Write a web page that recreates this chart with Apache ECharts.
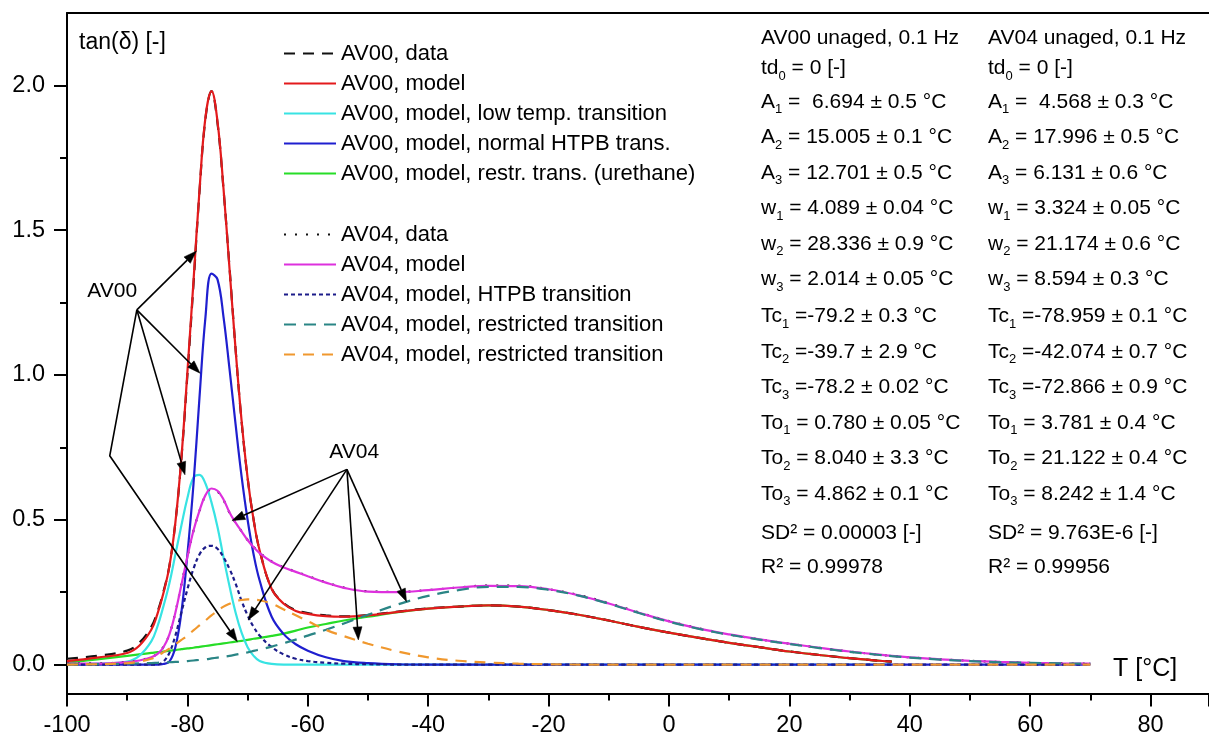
<!DOCTYPE html>
<html><head><meta charset="utf-8">
<script src="https://cdn.jsdelivr.net/npm/echarts@6/dist/echarts.min.js"></script>
<style>html,body{margin:0;padding:0;background:#fff}#c{width:1209px;height:742px}</style>
</head><body><div id="c"></div>
<script>
// ---------- data ----------
const temps = [-100,-95,-90,-88,-86,-85,-84,-83,-82,-81,-80,-79,-78,-77,-76,-75,-74,-73,-72,-71,-70,-69,-68,-66,-64,-62,-60,-57,-54,-50,-45,-40,-35,-30,-25,-20,-15,-10,-5,0,5,10,15,20,25,30,35,37,40,45,50,55,60,65,70];

const av00Data = [0.02,0.03,0.048,0.075,0.13, 0.18,0.25,0.34,0.49,0.71, 1.0,1.31,1.63,1.885,1.98, 1.87,1.64,1.37,1.09,0.84, 0.645,0.5,0.395,0.262,0.212, 0.188,0.178,0.17,0.166,0.171, 0.183,0.194,0.2,0.204,0.2, 0.188,0.172,0.152,0.13,0.11, 0.092,0.075,0.06,0.045,0.033, 0.022,0.013,0.01,null,null, null,null,null,null,null];
const av00Model = [0.012,0.024,0.04,0.065,0.12, 0.173,0.245,0.338,0.49,0.713, 1.01,1.32,1.635,1.89,1.98, 1.875,1.643,1.366,1.089,0.842, 0.645,0.499,0.394,0.261,0.21, 0.185,0.175,0.167,0.165,0.17, 0.182,0.193,0.2,0.204,0.2, 0.188,0.172,0.152,0.13,0.11, 0.092,0.075,0.06,0.045,0.033, 0.022,0.013,0.01,null,null, null,null,null,null,null];
const av00LowTemp = [0.001,0.003,0.01,0.03,0.08, 0.13,0.2,0.28,0.38,0.48, 0.575,0.645,0.655,0.625,0.56, 0.475,0.37,0.27,0.18,0.11, 0.06,0.03,0.012,0.002,0, 0,0,0,0,0, 0,0,0,0,0, 0,0,0,0,0, 0,0,0,0,0, 0,0,0,null,null, null,null,null,null,null];
const av00Htpb = [0,0,0,0,0, 0,0.002,0.01,0.06,0.18, 0.38,0.62,0.92,1.2,1.35, 1.33,1.2,1.02,0.83,0.65, 0.5,0.38,0.29,0.165,0.105, 0.07,0.048,0.025,0.012,0.005, 0.001,0,0,0,0, 0,0,0,0,0, 0,0,0,0,0, 0,0,0,0,0, 0,0,0,0,0];
const av00Urethane = [0.006,0.018,0.03,0.035,0.04, 0.043,0.045,0.048,0.05,0.053, 0.056,0.058,0.061,0.064,0.067, 0.07,0.073,0.076,0.079,0.082, 0.085,0.089,0.092,0.099,0.107, 0.117,0.128,0.14,0.152,0.165, 0.181,0.193,0.2,0.204,0.2, 0.188,0.172,0.152,0.13,0.11, 0.092,0.075,0.06,0.045,0.033, 0.022,0.013,0.01,null,null, null,null,null,null,null];

const av04Data = [0.004,0.004,0.009,0.015,0.026, 0.037,0.06,0.104,0.18,0.276, 0.372,0.461,0.53,0.583,0.606, 0.598,0.568,0.524,0.49,0.46, 0.43,0.406,0.386,0.356,0.336, 0.321,0.306,0.284,0.266,0.253, 0.251,0.257,0.266,0.273,0.272, 0.26,0.24,0.212,0.18,0.15, 0.125,0.104,0.087,0.072,0.058, 0.045,0.034,0.03,0.025,0.018, 0.013,0.009,0.006,0.004,0.003];
const av04Model = [0.003,0.003,0.008,0.014,0.025, 0.036,0.059,0.103,0.179,0.275, 0.372,0.462,0.531,0.585,0.608, 0.6,0.57,0.525,0.49,0.46, 0.43,0.405,0.385,0.355,0.335, 0.32,0.305,0.283,0.265,0.252, 0.25,0.257,0.266,0.272,0.271, 0.26,0.239,0.211,0.179,0.149, 0.124,0.104,0.087,0.072,0.058, 0.045,0.034,0.03,0.025,0.018, 0.013,0.009,0.006,0.004,0.003];
const av04Htpb = [0,0,0,0,0, 0,0.01,0.04,0.1,0.18, 0.26,0.33,0.38,0.405,0.41, 0.4,0.37,0.33,0.28,0.22, 0.17,0.13,0.1,0.06,0.035, 0.02,0.012,0.006,0.003,0.001, 0,0,0,0,0, 0,0,0,0,0, 0,0,0,0,0, 0,0,0,0,0, 0,0,0,0,0];
const av04Restricted = [0,0.001,0.003,0.004,0.005, 0.006,0.007,0.008,0.009,0.01, 0.012,0.014,0.016,0.018,0.021, 0.024,0.027,0.03,0.034,0.038, 0.042,0.047,0.052,0.062,0.074, 0.086,0.1,0.12,0.142,0.172, 0.208,0.237,0.257,0.268,0.268, 0.258,0.238,0.21,0.178,0.148, 0.123,0.103,0.086,0.071,0.057, 0.044,0.033,0.029,0.024,0.017, 0.012,0.008,0.006,0.004,0.003];
const av04Restricted2 = [0,0.001,0.005,0.01,0.02, 0.03,0.042,0.055,0.07,0.085, 0.1,0.118,0.135,0.152,0.17, 0.185,0.2,0.21,0.218,0.223, 0.225,0.224,0.222,0.21,0.19, 0.17,0.15,0.12,0.098,0.072, 0.045,0.025,0.013,0.007,0.003, 0.001,0,0,0,0, 0,0,0,0,0, 0,0,0,0,0, 0,0,0,0,0];

const yTickValues = [0, 0.5, 1.0, 1.5, 2.0];
const yMinorTickValues = [0.25, 0.75, 1.25, 1.75];

const namesAV00 = ['AV00, data','AV00, model','AV00, model, low temp. transition','AV00, model, normal HTPB trans.','AV00, model, restr. trans. (urethane)'];
const namesAV04 = ['AV04, data','AV04, model','AV04, model, HTPB transition','AV04, model, restricted transition','AV04, model, restricted transition '];

const paramsAV00 = ['AV00 unaged, 0.1 Hz','td_0 = 0 [-]','A_1 =  6.694 ± 0.5 °C','A_2 = 15.005 ± 0.1 °C','A_3 = 12.701 ± 0.5 °C','w_1 = 4.089 ± 0.04 °C','w_2 = 28.336 ± 0.9 °C','w_3 = 2.014 ± 0.05 °C','Tc_1 =-79.2 ± 0.3 °C','Tc_2 =-39.7 ± 2.9 °C','Tc_3 =-78.2 ± 0.02 °C','To_1 = 0.780 ± 0.05 °C','To_2 = 8.040 ± 3.3 °C','To_3 = 4.862 ± 0.1 °C','SD² = 0.00003 [-]','R² = 0.99978'];
const paramsAV04 = ['AV04 unaged, 0.1 Hz','td_0 = 0 [-]','A_1 =  4.568 ± 0.3 °C','A_2 = 17.996 ± 0.5 °C','A_3 = 6.131 ± 0.6 °C','w_1 = 3.324 ± 0.05 °C','w_2 = 21.174 ± 0.6 °C','w_3 = 8.594 ± 0.3 °C','Tc_1 =-78.959 ± 0.1 °C','Tc_2 =-42.074 ± 0.7 °C','Tc_3 =-72.866 ± 0.9 °C','To_1 = 3.781 ± 0.4 °C','To_2 = 21.122 ± 0.4 °C','To_3 = 8.242 ± 1.4 °C','SD² = 9.763E-6 [-]','R² = 0.99956'];

// annotation arrows in data coordinates (start ... tip)
const arrowPaths = [
  [[-88.4,1.225],[-78.5,1.428]],
  [[-88.4,1.225],[-77.9,1.006]],
  [[-88.4,1.225],[-80.4,0.655]],
  [[-88.4,1.225],[-92.9,0.721],[-71.7,0.079]],
  [[-53.5,0.674],[-72.6,0.497]],
  [[-53.5,0.674],[-69.9,0.154]],
  [[-53.5,0.674],[-51.6,0.085]],
  [[-53.5,0.674],[-43.6,0.217]]
];
const groupLabels = [{text:'AV00', at:[-92.5,1.29]}, {text:'AV04', at:[-52.3,0.734]}];

// ---------- layout / style ----------
const FONT = "'Liberation Sans', Arial, Helvetica, sans-serif";
const paramRowY = [38.5,68.5,102,137.5,173,208.5,244,279.5,316.5,352,387.5,423,458.5,494,533,567];
const paramColX = [761, 988];

function pts(vals){ return temps.map((t,i)=>[t, vals[i]]).filter(p=>p[1]!==null && p[1]!==undefined); }
function line(name, vals, color, type, width, z){
  return {name, type:'line', data: pts(vals), symbol:'none', showSymbol:false, smooth:0.4,
    lineStyle:{color, width, type}, itemStyle:{color}, z, animation:false, silent:true};
}

const series = [
  line('AV00, model, restr. trans. (urethane)', av00Urethane, '#27dd27', 'solid', 2.2, 2),
  line('AV00, data', av00Data, '#111111', [11,8], 2.2, 3),
  line('AV00, model', av00Model, '#e31a1c', 'solid', 2.2, 4),
  line('AV00, model, low temp. transition', av00LowTemp, '#38e3e3', 'solid', 2.2, 5),
  line('AV00, model, normal HTPB trans.', av00Htpb, '#1f1fcf', 'solid', 2.2, 6),
  line('AV04, data', av04Data, '#111111', [2,9], 2.2, 7),
  line('AV04, model', av04Model, '#dd30dd', 'solid', 2.2, 8),
  line('AV04, model, HTPB transition', av04Htpb, '#1c1c8a', [4,3], 2.2, 9),
  line('AV04, model, restricted transition', av04Restricted, '#2a8585', [12,8], 2.2, 10),
  line('AV04, model, restricted transition ', av04Restricted2, '#f0982e', [11,8], 2.2, 11)
];

const legendBase = {orient:'vertical', left:283, padding:0, itemWidth:52, itemHeight:14, itemGap:8, selectedMode:false,
  itemStyle:{opacity:0},
  textStyle:{fontFamily:FONT, fontSize:22, color:'#000', lineHeight:22}};

const option = {
  animation:false,
  backgroundColor:'#fff',
  grid:{left:67, top:13, width:1142, height:680.5, containLabel:false},
  legend:[
    Object.assign({}, legendBase, {top:42.5, data:namesAV00}),
    Object.assign({}, legendBase, {top:223.5, data:namesAV04})
  ],
  xAxis:[
    {type:'value', min:-100, max:89.7, interval:20, position:'bottom',
      axisLine:{show:true, onZero:false, lineStyle:{color:'#000', width:2}},
      axisTick:{show:true, length:13, lineStyle:{color:'#000', width:2}},
      minorTick:{show:true, splitNumber:2, length:7, lineStyle:{color:'#000', width:2}},
      splitLine:{show:false}, minorSplitLine:{show:false},
      axisLabel:{color:'#000', fontFamily:FONT, fontSize:23.5, margin:20, showMaxLabel:false}},
    {type:'value', min:-100, max:89.7, position:'top',
      axisLine:{show:true, onZero:false, lineStyle:{color:'#000', width:2}},
      axisTick:{show:false}, axisLabel:{show:false}, splitLine:{show:false}}
  ],
  yAxis:[
    {type:'value', min:-0.1, max:2.25, position:'left',
      axisLine:{show:true, onZero:false, lineStyle:{color:'#000', width:2}},
      axisTick:{show:true, length:13, customValues:yTickValues, lineStyle:{color:'#000', width:2}},
      splitLine:{show:false},
      axisLabel:{color:'#000', fontFamily:FONT, fontSize:23.5, margin:22, customValues:yTickValues, formatter:v=>Number(v).toFixed(1)}},
    {type:'value', min:-0.1, max:2.25, position:'left', offset:0,
      axisLine:{show:false, onZero:false}, splitLine:{show:false},
      axisTick:{show:true, length:7, customValues:yMinorTickValues, lineStyle:{color:'#000', width:2}},
      axisLabel:{show:false}}
  ],
  series
};

const chart = echarts.init(document.getElementById('c'), null, {renderer:'canvas'});
chart.setOption(option);

const P = p => chart.convertToPixel({gridIndex:0}, p);
const graphics = [];

function arrowEls(path){
  const px = path.map(P);
  const n = px.length, tip = px[n-1], prev = px[n-2];
  const dx = tip[0]-prev[0], dy = tip[1]-prev[1], L = Math.hypot(dx,dy);
  const ux = dx/L, uy = dy/L, hl = 13, hw = 4.5;
  const base = [tip[0]-ux*hl, tip[1]-uy*hl];
  graphics.push({type:'polyline', silent:true, z:100, shape:{points:px.slice(0,n-1).concat([base])}, style:{stroke:'#000', lineWidth:1.6, fill:'none'}});
  graphics.push({type:'polygon', silent:true, z:100, shape:{points:[tip,[base[0]-uy*hw, base[1]+ux*hw],[base[0]+uy*hw, base[1]-ux*hw]]}, style:{fill:'#000', stroke:'#000', lineWidth:0.5}});
}
arrowPaths.forEach(arrowEls);

groupLabels.forEach(g=>{
  const p = P(g.at);
  graphics.push({type:'text', silent:true, z:100, x:p[0], y:p[1], style:{text:g.text, fill:'#000', fontFamily:FONT, fontSize:21, align:'center', textAlign:'center', verticalAlign:'middle', textVerticalAlign:'middle'}});
});

function richLine(s){ return s.replace(/_(\d)/g, '{s|$1}'); }
[paramsAV00, paramsAV04].forEach((col, ci)=>{
  col.forEach((s, ri)=>{
    graphics.push({type:'text', silent:true, z:100, x:paramColX[ci], y:paramRowY[ri],
      style:{text:richLine(s), fill:'#000', fontFamily:FONT, fontSize:21, lineHeight:28,
        align:'left', textAlign:'left', verticalAlign:'middle', textVerticalAlign:'middle',
        rich:{s:{fontFamily:FONT, fontSize:13, lineHeight:13, verticalAlign:'bottom', fill:'#000'}}}});
  });
});

graphics.push({type:'text', silent:true, z:100, x:79, y:43, style:{text:'tan(δ) [-]', fill:'#000', fontFamily:FONT, fontSize:23, align:'left', textAlign:'left', verticalAlign:'middle', textVerticalAlign:'middle'}});
graphics.push({type:'text', silent:true, z:100, x:1113, y:669, style:{text:'T [°C]', fill:'#000', fontFamily:FONT, fontSize:25, align:'left', textAlign:'left', verticalAlign:'middle', textVerticalAlign:'middle'}});

chart.setOption({graphic: graphics});
</script>
</body></html>
